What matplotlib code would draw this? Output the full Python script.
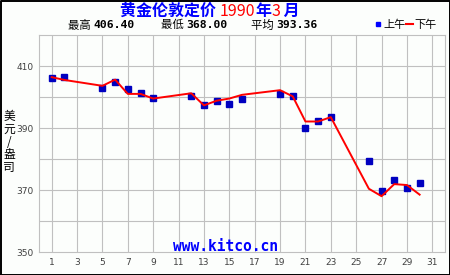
import matplotlib
matplotlib.use("Agg")
import matplotlib.pyplot as plt
from matplotlib.lines import Line2D

plt.rcParams['font.family'] = ['Noto Sans CJK SC', 'DejaVu Sans']

days = [1, 2, 5, 6, 7, 8, 9, 12, 13, 14, 15, 16, 19, 20, 21, 22, 23, 26, 27, 28, 29, 30]
am_fix = [406.0, 406.3, 403.0, 404.8, 402.6, 401.4, 399.7, 400.3, 397.5, 398.6, 397.9,
          399.3, 401.1, 400.4, 390.0, 392.2, 393.4, 379.4, 369.6, 373.2, 370.6, 372.2]
pm_fix = [406.4, 405.5, 403.6, 405.6, 401.0, 401.0, 399.5, 401.2, 397.3, 398.8, 399.5,
          400.7, 402.2, 400.2, 392.1, 392.1, 393.5, 370.4, 368.0, 371.9, 371.6, 368.5]
xticks = list(range(1, 32, 2))
yticks = [350, 370, 390, 410]
stats = [("最高", "406.40"), ("最低", "368.00"), ("平均", "393.36")]

W, H = 450, 275
fig = plt.figure(figsize=(4.5, 2.75), dpi=100, facecolor='#fcfefc')
ax = fig.add_axes([39 / W, 1 - 252 / H, (445 - 39) / W, (252 - 35) / H])
ax.set_facecolor('#fcfefc')
ax.set_xlim(0, 32)
ax.set_ylim(350, 420)
for v in range(360, 420, 10):
    ax.axhline(v, color='#c0c0c0', lw=0.8, zorder=0)
for d in xticks:
    ax.axvline(d, color='#c0c0c0', lw=0.8, zorder=0)
for s in ax.spines.values():
    s.set_color('#c0c0c0')
    s.set_linewidth(0.8)
ax.set_xticks(xticks)
ax.set_xticklabels([str(d) for d in xticks])
ax.set_yticks(yticks)
ax.set_yticklabels([str(v) for v in yticks])
ax.tick_params(length=0, labelsize=6.5, colors='#404040', pad=4)
for lab in ax.get_xticklabels() + ax.get_yticklabels():
    lab.set_family('DejaVu Sans')

ax.plot(days, am_fix, 's', color='#0000c0', ms=4.2, mec='#0000c0', zorder=3)
ax.plot(days, pm_fix, '-', color='#ff0000', lw=1.4, zorder=4)

ax.text(0.459, 0.005, "www.kitco.cn", transform=ax.transAxes, ha='center', va='baseline',
        color='#0000ff', fontsize=10.5, fontweight='bold', family='DejaVu Sans Mono')

# outer frame
fig.add_artist(Line2D([0.5 / W, 0.5 / W, 1 - 0.5 / W, 1 - 0.5 / W, 0.5 / W],
                      [0.5 / H, 1 - 0.5 / H, 1 - 0.5 / H, 0.5 / H, 0.5 / H],
                      transform=fig.transFigure, color='black', lw=1.4))

renderer = fig.canvas.get_renderer()

def chain(parts, x0, y, size):
    x = x0
    for txt, col, fam, wt in parts:
        t = fig.text(x / W, 1 - y / H, txt, color=col, fontsize=size, fontweight=wt,
                     ha='left', va='center', family=fam)
        bb = t.get_window_extent(renderer)
        x += bb.width
    return x

cjk = ['Noto Sans CJK SC', 'DejaVu Sans']
chain([("黄金伦敦定价 ", '#0000ff', cjk, 'bold'), ("1990", '#ff0000', cjk, 'medium'),
       ("年", '#0000ff', cjk, 'bold'), ("3", '#ff0000', cjk, 'medium'),
       (" 月", '#0000ff', cjk, 'bold')], 120, 11, 11.5)

xs = [68, 161, 251]
for (lab, val), x in zip(stats, xs):
    chain([(lab + " ", 'black', cjk, 'normal'),
           (val, 'black', ['DejaVu Sans Mono'], 'bold')], x, 25, 8.2)

# legend
fig.add_artist(Line2D([378 / W], [1 - 24 / H], marker='s', ms=3, color='#0000ff',
                      transform=fig.transFigure))
fig.text(383 / W, 1 - 25 / H, "上午", fontsize=8, ha='left', va='center', family=cjk)
fig.add_artist(Line2D([406 / W, 413 / W], [1 - 24 / H, 1 - 24 / H], color='#ff0000', lw=1.5,
                      transform=fig.transFigure))
fig.text(414 / W, 1 - 25 / H, "下午", fontsize=8, ha='left', va='center', family=cjk)

fig.text(9 / W, 1 - 142 / H, "美\n元\n/\n盎\n司", fontsize=8.5, ha='center', va='center',
         linespacing=0.95, family=cjk)

fig.savefig("out.png", dpi=100, facecolor=fig.get_facecolor())
